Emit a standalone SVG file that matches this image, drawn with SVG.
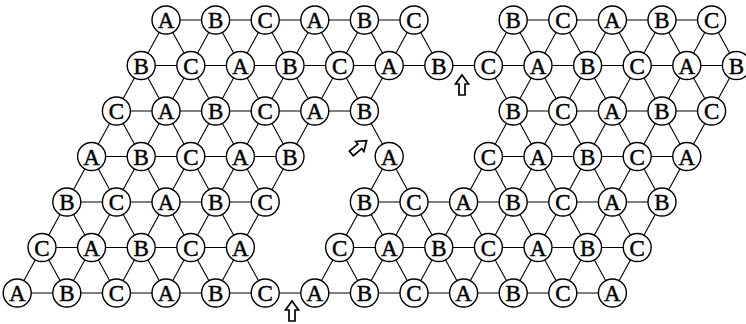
<svg xmlns="http://www.w3.org/2000/svg" width="746" height="324" viewBox="0 0 746 324">
<style>
.e line{stroke:#000;stroke-width:1.1}
.n circle{fill:#fff;stroke:#000;stroke-width:1.4}
.n text{font-family:"Liberation Serif","Times New Roman",serif;font-size:23px;text-anchor:middle;fill:#000;stroke:#000;stroke-width:0.45}
.ar{fill:#fff;stroke:#000;stroke-width:1.7;stroke-linejoin:miter}
</style>
<defs>
<path id="arrow" d="M0,-10 L6.5,-1 L3,-1 L3,10 L-3,10 L-3,-1 L-6.5,-1 Z"/>
</defs>
<g id="connectors" class="e">
<line x1="166" y1="20" x2="414" y2="20"/>
<line x1="513.2" y1="20" x2="711.6" y2="20"/>
<line x1="141.2" y1="65.5" x2="736.4" y2="65.5"/>
<line x1="116.4" y1="111" x2="364.4" y2="111"/>
<line x1="513.2" y1="111" x2="711.6" y2="111"/>
<line x1="91.6" y1="156.5" x2="290" y2="156.5"/>
<line x1="488.4" y1="156.5" x2="686.8" y2="156.5"/>
<line x1="66.8" y1="202" x2="265.2" y2="202"/>
<line x1="364.4" y1="202" x2="662" y2="202"/>
<line x1="42" y1="247.5" x2="240.4" y2="247.5"/>
<line x1="339.6" y1="247.5" x2="637.2" y2="247.5"/>
<line x1="17.2" y1="293" x2="612.4" y2="293"/>
<line x1="166" y1="20" x2="17.2" y2="293"/>
<line x1="215.6" y1="20" x2="66.8" y2="293"/>
<line x1="265.2" y1="20" x2="116.4" y2="293"/>
<line x1="314.8" y1="20" x2="166" y2="293"/>
<line x1="364.4" y1="20" x2="215.6" y2="293"/>
<line x1="414" y1="20" x2="364.4" y2="111"/>
<line x1="389.2" y1="156.5" x2="314.8" y2="293"/>
<line x1="513.2" y1="20" x2="488.4" y2="65.5"/>
<line x1="414" y1="202" x2="364.4" y2="293"/>
<line x1="562.8" y1="20" x2="414" y2="293"/>
<line x1="612.4" y1="20" x2="463.6" y2="293"/>
<line x1="662" y1="20" x2="513.2" y2="293"/>
<line x1="711.6" y1="20" x2="562.8" y2="293"/>
<line x1="736.4" y1="65.5" x2="612.4" y2="293"/>
<line x1="42" y1="247.5" x2="66.8" y2="293"/>
<line x1="66.8" y1="202" x2="116.4" y2="293"/>
<line x1="91.6" y1="156.5" x2="166" y2="293"/>
<line x1="116.4" y1="111" x2="215.6" y2="293"/>
<line x1="141.2" y1="65.5" x2="265.2" y2="293"/>
<line x1="166" y1="20" x2="265.2" y2="202"/>
<line x1="215.6" y1="20" x2="290" y2="156.5"/>
<line x1="339.6" y1="247.5" x2="364.4" y2="293"/>
<line x1="265.2" y1="20" x2="314.8" y2="111"/>
<line x1="364.4" y1="202" x2="414" y2="293"/>
<line x1="314.8" y1="20" x2="463.6" y2="293"/>
<line x1="364.4" y1="20" x2="389.2" y2="65.5"/>
<line x1="463.6" y1="202" x2="513.2" y2="293"/>
<line x1="414" y1="20" x2="438.8" y2="65.5"/>
<line x1="488.4" y1="156.5" x2="562.8" y2="293"/>
<line x1="488.4" y1="65.5" x2="612.4" y2="293"/>
<line x1="513.2" y1="20" x2="637.2" y2="247.5"/>
<line x1="562.8" y1="20" x2="662" y2="202"/>
<line x1="612.4" y1="20" x2="686.8" y2="156.5"/>
<line x1="662" y1="20" x2="711.6" y2="111"/>
<line x1="711.6" y1="20" x2="736.4" y2="65.5"/>
</g>
<g id="nodes" class="n">
<g id="n0_0" transform="translate(166,20)"><circle r="14"/><text y="8">A</text></g>
<g id="n0_1" transform="translate(215.6,20)"><circle r="14"/><text y="8">B</text></g>
<g id="n0_2" transform="translate(265.2,20)"><circle r="14"/><text y="8">C</text></g>
<g id="n0_3" transform="translate(314.8,20)"><circle r="14"/><text y="8">A</text></g>
<g id="n0_4" transform="translate(364.4,20)"><circle r="14"/><text y="8">B</text></g>
<g id="n0_5" transform="translate(414,20)"><circle r="14"/><text y="8">C</text></g>
<g id="n0_7" transform="translate(513.2,20)"><circle r="14"/><text y="8">B</text></g>
<g id="n0_8" transform="translate(562.8,20)"><circle r="14"/><text y="8">C</text></g>
<g id="n0_9" transform="translate(612.4,20)"><circle r="14"/><text y="8">A</text></g>
<g id="n0_10" transform="translate(662,20)"><circle r="14"/><text y="8">B</text></g>
<g id="n0_11" transform="translate(711.6,20)"><circle r="14"/><text y="8">C</text></g>

<g id="n1_0" transform="translate(141.2,65.5)"><circle r="14"/><text y="8">B</text></g>
<g id="n1_1" transform="translate(190.8,65.5)"><circle r="14"/><text y="8">C</text></g>
<g id="n1_2" transform="translate(240.4,65.5)"><circle r="14"/><text y="8">A</text></g>
<g id="n1_3" transform="translate(290,65.5)"><circle r="14"/><text y="8">B</text></g>
<g id="n1_4" transform="translate(339.6,65.5)"><circle r="14"/><text y="8">C</text></g>
<g id="n1_5" transform="translate(389.2,65.5)"><circle r="14"/><text y="8">A</text></g>
<g id="n1_6" transform="translate(438.8,65.5)"><circle r="14"/><text y="8">B</text></g>
<g id="n1_7" transform="translate(488.4,65.5)"><circle r="14"/><text y="8">C</text></g>
<g id="n1_8" transform="translate(538,65.5)"><circle r="14"/><text y="8">A</text></g>
<g id="n1_9" transform="translate(587.6,65.5)"><circle r="14"/><text y="8">B</text></g>
<g id="n1_10" transform="translate(637.2,65.5)"><circle r="14"/><text y="8">C</text></g>
<g id="n1_11" transform="translate(686.8,65.5)"><circle r="14"/><text y="8">A</text></g>
<g id="n1_12" transform="translate(736.4,65.5)"><circle r="14"/><text y="8">B</text></g>

<g id="n2_0" transform="translate(116.4,111)"><circle r="14"/><text y="8">C</text></g>
<g id="n2_1" transform="translate(166,111)"><circle r="14"/><text y="8">A</text></g>
<g id="n2_2" transform="translate(215.6,111)"><circle r="14"/><text y="8">B</text></g>
<g id="n2_3" transform="translate(265.2,111)"><circle r="14"/><text y="8">C</text></g>
<g id="n2_4" transform="translate(314.8,111)"><circle r="14"/><text y="8">A</text></g>
<g id="n2_5" transform="translate(364.4,111)"><circle r="14"/><text y="8">B</text></g>
<g id="n2_8" transform="translate(513.2,111)"><circle r="14"/><text y="8">B</text></g>
<g id="n2_9" transform="translate(562.8,111)"><circle r="14"/><text y="8">C</text></g>
<g id="n2_10" transform="translate(612.4,111)"><circle r="14"/><text y="8">A</text></g>
<g id="n2_11" transform="translate(662,111)"><circle r="14"/><text y="8">B</text></g>
<g id="n2_12" transform="translate(711.6,111)"><circle r="14"/><text y="8">C</text></g>

<g id="n3_0" transform="translate(91.6,156.5)"><circle r="14"/><text y="8">A</text></g>
<g id="n3_1" transform="translate(141.2,156.5)"><circle r="14"/><text y="8">B</text></g>
<g id="n3_2" transform="translate(190.8,156.5)"><circle r="14"/><text y="8">C</text></g>
<g id="n3_3" transform="translate(240.4,156.5)"><circle r="14"/><text y="8">A</text></g>
<g id="n3_4" transform="translate(290,156.5)"><circle r="14"/><text y="8">B</text></g>
<g id="n3_6" transform="translate(389.2,156.5)"><circle r="14"/><text y="8">A</text></g>
<g id="n3_8" transform="translate(488.4,156.5)"><circle r="14"/><text y="8">C</text></g>
<g id="n3_9" transform="translate(538,156.5)"><circle r="14"/><text y="8">A</text></g>
<g id="n3_10" transform="translate(587.6,156.5)"><circle r="14"/><text y="8">B</text></g>
<g id="n3_11" transform="translate(637.2,156.5)"><circle r="14"/><text y="8">C</text></g>
<g id="n3_12" transform="translate(686.8,156.5)"><circle r="14"/><text y="8">A</text></g>

<g id="n4_0" transform="translate(66.8,202)"><circle r="14"/><text y="8">B</text></g>
<g id="n4_1" transform="translate(116.4,202)"><circle r="14"/><text y="8">C</text></g>
<g id="n4_2" transform="translate(166,202)"><circle r="14"/><text y="8">A</text></g>
<g id="n4_3" transform="translate(215.6,202)"><circle r="14"/><text y="8">B</text></g>
<g id="n4_4" transform="translate(265.2,202)"><circle r="14"/><text y="8">C</text></g>
<g id="n4_6" transform="translate(364.4,202)"><circle r="14"/><text y="8">B</text></g>
<g id="n4_7" transform="translate(414,202)"><circle r="14"/><text y="8">C</text></g>
<g id="n4_8" transform="translate(463.6,202)"><circle r="14"/><text y="8">A</text></g>
<g id="n4_9" transform="translate(513.2,202)"><circle r="14"/><text y="8">B</text></g>
<g id="n4_10" transform="translate(562.8,202)"><circle r="14"/><text y="8">C</text></g>
<g id="n4_11" transform="translate(612.4,202)"><circle r="14"/><text y="8">A</text></g>
<g id="n4_12" transform="translate(662,202)"><circle r="14"/><text y="8">B</text></g>

<g id="n5_0" transform="translate(42,247.5)"><circle r="14"/><text y="8">C</text></g>
<g id="n5_1" transform="translate(91.6,247.5)"><circle r="14"/><text y="8">A</text></g>
<g id="n5_2" transform="translate(141.2,247.5)"><circle r="14"/><text y="8">B</text></g>
<g id="n5_3" transform="translate(190.8,247.5)"><circle r="14"/><text y="8">C</text></g>
<g id="n5_4" transform="translate(240.4,247.5)"><circle r="14"/><text y="8">A</text></g>
<g id="n5_6" transform="translate(339.6,247.5)"><circle r="14"/><text y="8">C</text></g>
<g id="n5_7" transform="translate(389.2,247.5)"><circle r="14"/><text y="8">A</text></g>
<g id="n5_8" transform="translate(438.8,247.5)"><circle r="14"/><text y="8">B</text></g>
<g id="n5_9" transform="translate(488.4,247.5)"><circle r="14"/><text y="8">C</text></g>
<g id="n5_10" transform="translate(538,247.5)"><circle r="14"/><text y="8">A</text></g>
<g id="n5_11" transform="translate(587.6,247.5)"><circle r="14"/><text y="8">B</text></g>
<g id="n5_12" transform="translate(637.2,247.5)"><circle r="14"/><text y="8">C</text></g>

<g id="n6_0" transform="translate(17.2,293)"><circle r="14"/><text y="8">A</text></g>
<g id="n6_1" transform="translate(66.8,293)"><circle r="14"/><text y="8">B</text></g>
<g id="n6_2" transform="translate(116.4,293)"><circle r="14"/><text y="8">C</text></g>
<g id="n6_3" transform="translate(166,293)"><circle r="14"/><text y="8">A</text></g>
<g id="n6_4" transform="translate(215.6,293)"><circle r="14"/><text y="8">B</text></g>
<g id="n6_5" transform="translate(265.2,293)"><circle r="14"/><text y="8">C</text></g>
<g id="n6_6" transform="translate(314.8,293)"><circle r="14"/><text y="8">A</text></g>
<g id="n6_7" transform="translate(364.4,293)"><circle r="14"/><text y="8">B</text></g>
<g id="n6_8" transform="translate(414,293)"><circle r="14"/><text y="8">C</text></g>
<g id="n6_9" transform="translate(463.6,293)"><circle r="14"/><text y="8">A</text></g>
<g id="n6_10" transform="translate(513.2,293)"><circle r="14"/><text y="8">B</text></g>
<g id="n6_11" transform="translate(562.8,293)"><circle r="14"/><text y="8">C</text></g>
<g id="n6_12" transform="translate(612.4,293)"><circle r="14"/><text y="8">A</text></g>
</g>
<g id="arrows">
<use href="#arrow" class="ar" transform="translate(462,85)"/>
<use href="#arrow" class="ar" transform="translate(359,147) rotate(50)"/>
<use href="#arrow" class="ar" transform="translate(292,311)"/>
</g>
</svg>
